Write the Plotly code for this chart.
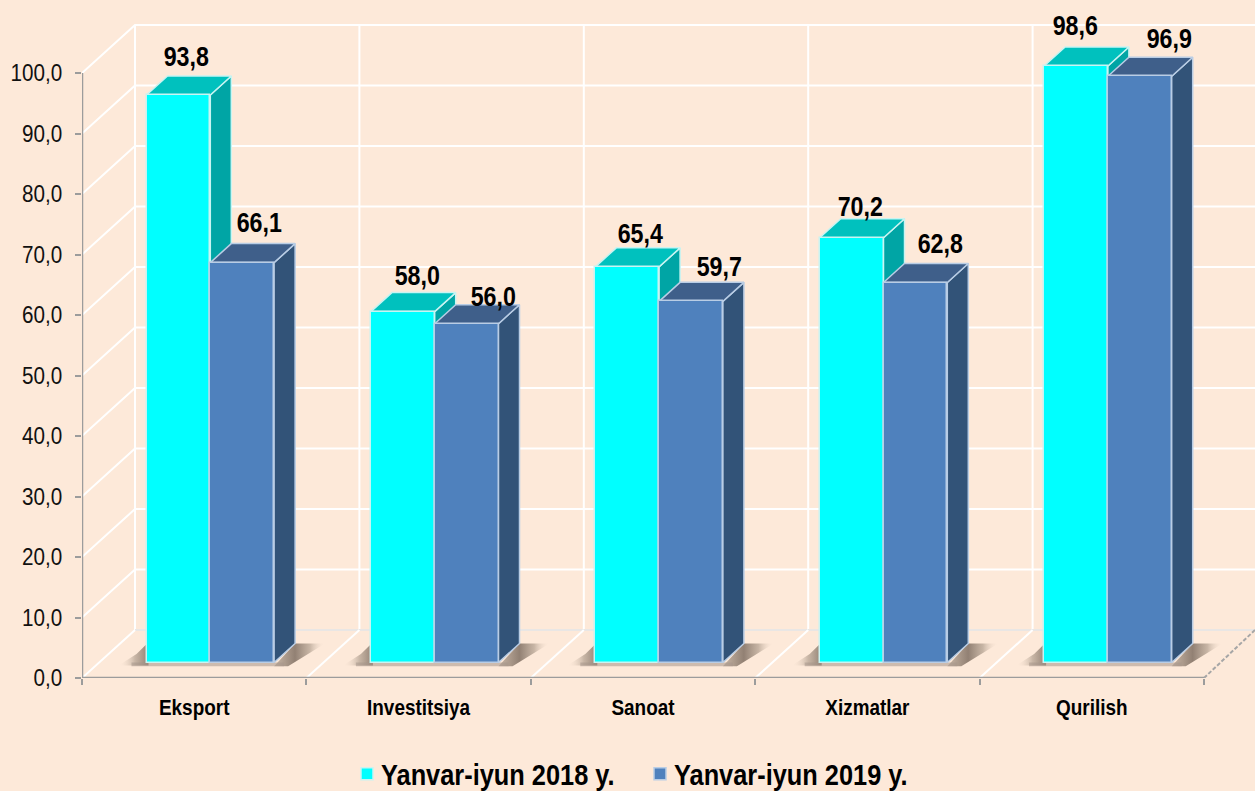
import plotly.graph_objects as go

# ---------- data ----------
categories = ["Eksport", "Investitsiya", "Sanoat", "Xizmatlar", "Qurilish"]
series_2018 = [93.8, 58.0, 65.4, 70.2, 98.6]
series_2019 = [66.1, 56.0, 59.7, 62.8, 96.9]
name_2018 = "Yanvar-iyun 2018 y."
name_2019 = "Yanvar-iyun 2019 y."
y_ticks = list(range(0, 101, 10))
# hand-placed label nudges, pixels (x, y) from top centre of each front face
nudge_2018 = [(8, 38), (15, 36), (13, 33), (9, 31), (-1, 40)]
nudge_2019 = [(17, 40), (27, 27), (28, 34), (25, 39), (30, 37)]

# ---------- style / geometry ----------
BG = "#FDE9D9"
FONT = "Liberation Sans, Arial, sans-serif"
PX_X, PX_Y = 224.4, 6.05          # pixels per category, per value unit
X0, Y0 = 82, 678                  # pixel position of the axis origin
XMAX, YMAX = (1255 - X0) / PX_X, Y0 / PX_Y
WALL_DX, WALL_DY = 53 / PX_X, 48 / PX_Y
BAR_DX, BAR_DY = 21 / PX_X, 19 / PX_Y
FLOOR = 15.5 / PX_Y
BAR_LEFT, BAR_W = 64.5 / PX_X, 63.8 / PX_X
n = len(categories)

C18 = dict(front="#00FFFF", side="#00A5A5", top="#00C1BE", edge="#C8F4F2")
C19 = dict(front="#4F81BD", side="#325378", top="#3F5F8A", edge="#B9CDE5")

fig = go.Figure()


def lines(xs, ys, color, width, dash="solid", clip=True):
    fig.add_trace(go.Scatter(x=xs, y=ys, mode="lines", showlegend=False, hoverinfo="skip",
                             cliponaxis=clip, line=dict(color=color, width=width, dash=dash)))


def poly(xs, ys, fill, edge=None, gradient=None):
    kw = dict(fillgradient=gradient) if gradient else dict(fillcolor=fill)
    fig.add_trace(go.Scatter(x=xs, y=ys, mode="lines", fill="toself", showlegend=False,
                             hoverinfo="skip",
                             line=dict(color=edge or "rgba(0,0,0,0)", width=1.5 if edge else 0), **kw))


# walls: horizontal gridlines on the back wall and the left wall
gx, gy = [], []
for t in y_ticks[1:]:
    gx += [0, WALL_DX, XMAX, None]
    gy += [t, t + WALL_DY, t + WALL_DY, None]
lines(gx, gy, "#FFFFFF", 2)
# vertical back-wall gridlines and floor diagonals
vx, vy = [], []
for i in range(n + 1):
    vx += [i + WALL_DX, i + WALL_DX, None]
    vy += [WALL_DY, y_ticks[-1] + WALL_DY, None]
lines(vx, vy, "#FFFFFF", 2)
lines([WALL_DX, XMAX], [WALL_DY, WALL_DY], "#E9E6E4", 2)
fx, fy = [], []
for i in range(n):
    fx += [i, i + WALL_DX, None]
    fy += [0, WALL_DY, None]
lines(fx, fy, "#FFFFFF", 2)
lines([n, min(n + WALL_DX, XMAX)], [0, WALL_DY], "#A6A6A6", 2, dash="4px,2px", clip=False)

# floor shadows
DARK, MID, CLEAR = "rgba(140,123,110,0.95)", "rgba(190,172,156,0.85)", "rgba(253,233,217,0)"
for i in range(n):
    l = i + BAR_LEFT
    r = l + 2 * BAR_W
    poly([l - 28 / PX_X, l + 2 / PX_X, l + 2 / PX_X, l - 10 / PX_X, l - 28 / PX_X],
         [FLOOR - 0.5, FLOOR - 0.5, FLOOR + BAR_DY + 0.2, FLOOR + BAR_DY * 0.45, FLOOR - 0.5], None,
         gradient=dict(type="horizontal", colorscale=[[0, CLEAR], [0.55, MID], [1, DARK]]))
    poly([r, r + BAR_DX, r + BAR_DX + 30 / PX_X, r + 14 / PX_X, r],
         [FLOOR - 0.6, FLOOR + BAR_DY, FLOOR + BAR_DY, FLOOR - 0.6, FLOOR - 0.6], None,
         gradient=dict(type="horizontal", colorscale=[[0, MID], [0.41, DARK], [0.7, MID], [1, CLEAR]]))
    poly([l - 15 / PX_X, r + 10 / PX_X, r + 10 / PX_X, l - 15 / PX_X],
         [FLOOR - 0.6, FLOOR - 0.6, FLOOR, FLOOR], "rgba(165,150,138,0.55)")

# side and top faces, first series behind second
for s, (vals, c) in enumerate(((series_2018, C18), (series_2019, C19))):
    for i, v in enumerate(vals):
        l = i + BAR_LEFT + s * BAR_W
        r = l + BAR_W
        top = FLOOR + v
        poly([r, r + BAR_DX, r + BAR_DX, r, r],
             [FLOOR, FLOOR + BAR_DY, top + BAR_DY, top, FLOOR], c["side"], c["edge"])
        poly([l, l + BAR_DX, r + BAR_DX, r, l],
             [top, top + BAR_DY, top + BAR_DY, top, top], c["top"], c["edge"])

# front faces: real bars on an overlaid pair of axes so they sit above the polygons
for s, (vals, c, nm) in enumerate(((series_2018, C18, name_2018), (series_2019, C19, name_2019))):
    fig.add_trace(go.Bar(
        x=[i + BAR_LEFT + (s + 0.5) * BAR_W for i in range(n)], y=vals, base=FLOOR, width=BAR_W,
        name=nm, xaxis="x2", yaxis="y2", hovertext=categories,
        marker=dict(color=c["front"], line=dict(color=c["edge"], width=1.5))))

# axis lines
lines([0, 0], [0, y_ticks[-1]], "#9C9C9C", 2.5, clip=False)
lines([0, n], [0, 0], "#9C9C9C", 2.5, clip=False)

# value labels
for s, (vals, nudges) in enumerate(((series_2018, nudge_2018), (series_2019, nudge_2019))):
    for i, v in enumerate(vals):
        fig.add_annotation(x=i + BAR_LEFT + (s + 0.5) * BAR_W, y=FLOOR + v,
                           text=f"<b>{v:.1f}</b>".replace(".", ","), showarrow=False,
                           xshift=nudges[i][0], yshift=nudges[i][1],
                           xanchor="center", yanchor="middle",
                           font=dict(family=FONT, size=27, color="#000000"))

fig.update_layout(
    width=1255, height=791, autosize=False,
    margin=dict(l=X0, r=0, t=0, b=791 - Y0, pad=0),
    paper_bgcolor=BG, plot_bgcolor=BG, bargap=0, barmode="overlay",
    font=dict(family=FONT, color="#111111"),
    hovermode=False,
    xaxis=dict(range=[0, XMAX], showgrid=False, zeroline=False, showline=False,
               tickmode="array", tickvals=[i + 0.5 for i in range(n)],
               ticktext=[f"<b>{c}</b>" for c in categories], ticks="",
               ticklabelstandoff=14, tickfont=dict(family=FONT, size=22, color="#000000"),
               minor=dict(tickmode="array", tickvals=list(range(n + 1)), ticks="outside",
                          ticklen=6, tickwidth=1.5, tickcolor="#9C9C9C", showgrid=False)),
    yaxis=dict(range=[0, YMAX], showgrid=False, zeroline=False, showline=False,
               tickmode="array", tickvals=y_ticks, ticktext=[f"{t:.1f}".replace(".", ",") for t in y_ticks],
               ticks="outside", ticklen=6, tickwidth=2, tickcolor="#9C9C9C",
               ticklabelstandoff=8, tickfont=dict(family=FONT, size=24, color="#111111")),
    xaxis2=dict(range=[0, XMAX], overlaying="x", visible=False),
    yaxis2=dict(range=[0, YMAX], overlaying="y", visible=False),
    legend=dict(orientation="h", xref="container", yref="container",
                x=640 / 1255, xanchor="center", y=1 - 774 / 791, yanchor="middle",
                entrywidth=248, entrywidthmode="pixels", traceorder="normal",
                bgcolor="rgba(0,0,0,0)", itemclick=False, itemdoubleclick=False,
                font=dict(family=FONT, size=29.5, color="#000000", weight="bold")),
)

# no page margin; narrow every text horizontally, as the reference's condensed lettering
post = """
document.body.style.margin = '0';
document.querySelectorAll('.main-svg text, .infolayer text').forEach(function (t) {
  var w = t.getComputedTextLength();
  if (w > 0) {
    t.setAttribute('textLength', (w * 0.86).toFixed(1));
    t.setAttribute('lengthAdjust', 'spacingAndGlyphs');
  }
});
document.querySelectorAll('.legendtext').forEach(function (t) {
  t.setAttribute('x', parseFloat(t.getAttribute('x')) - 6);
});
"""
fig.write_html("out.html", config=dict(displayModeBar=False), post_script=post)
